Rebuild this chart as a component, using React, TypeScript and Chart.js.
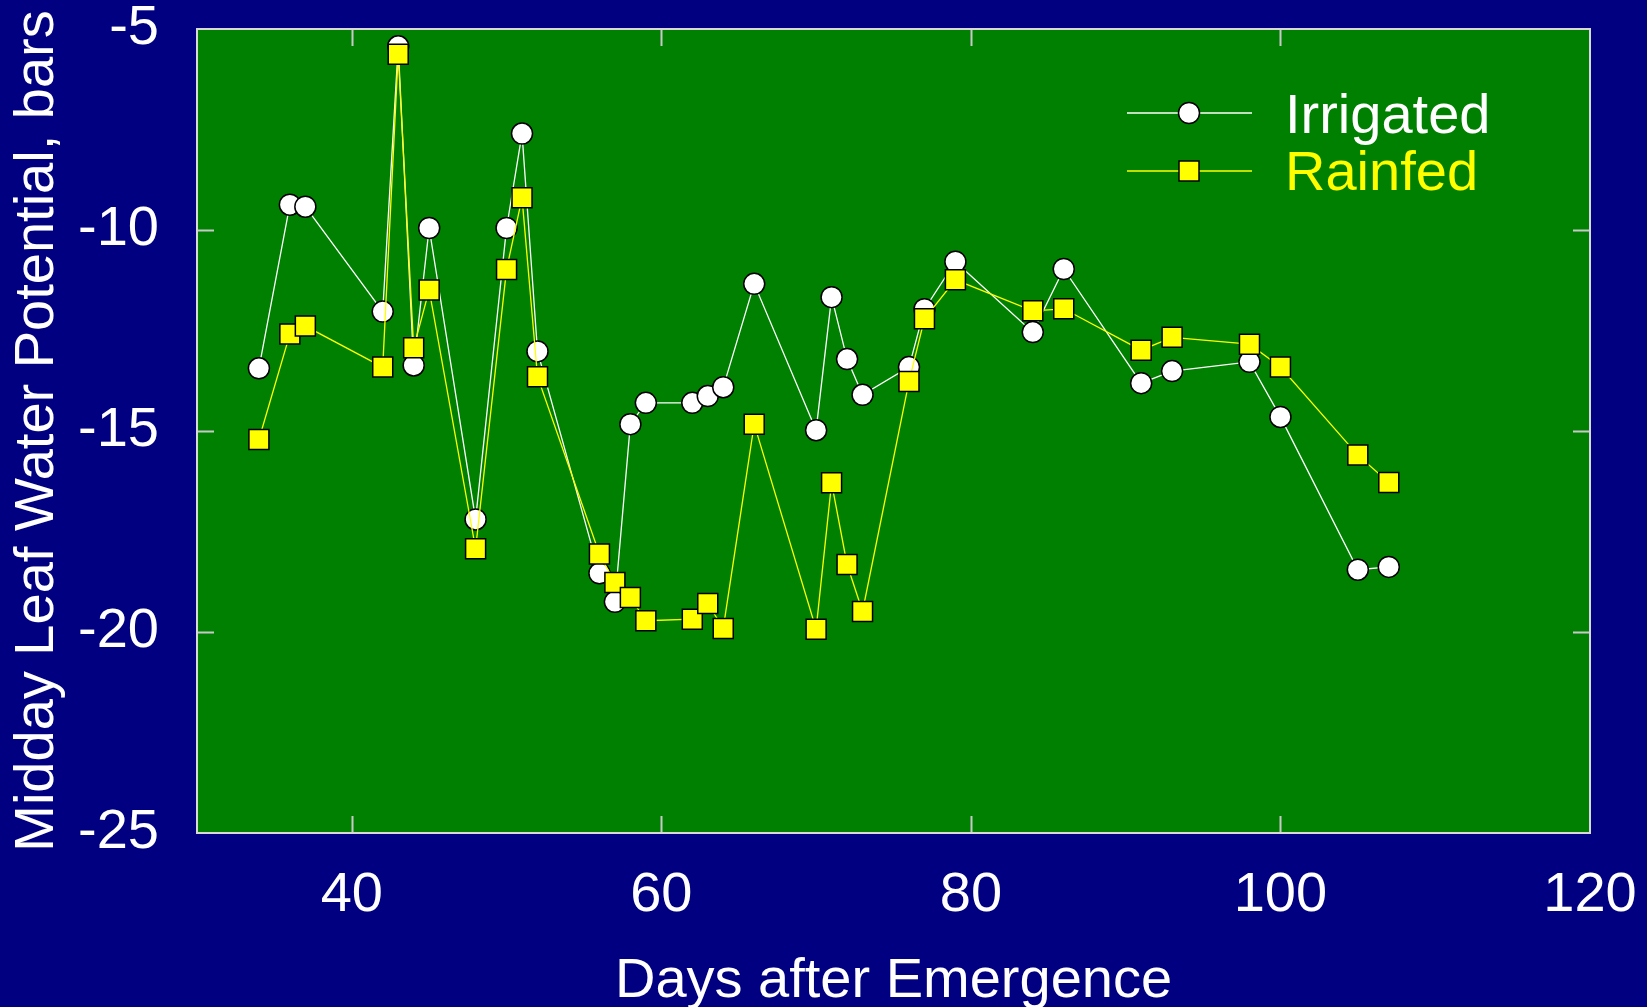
import React, { useEffect, useRef } from 'react';
import { Chart, registerables } from 'chart.js';

Chart.register(...registerables);

const days = [34, 36, 37, 42, 43, 44, 45, 48, 50, 51, 52, 56, 57, 58, 59, 62, 63, 64, 66, 70, 71, 72, 73, 76, 77, 79, 84, 86, 91, 93, 98, 100, 105, 107];
const irrigated = [-13.44, -9.37, -9.42, -12.03, -5.43, -13.37, -9.95, -17.2, -9.95, -7.6, -13.02, -18.54, -19.25, -14.83, -14.3, -14.3, -14.13, -13.91, -11.34, -14.98, -11.67, -13.21, -14.1, -13.41, -11.97, -10.79, -12.54, -10.97, -13.81, -13.51, -13.28, -14.65, -18.45, -18.38];
const rainfed = [-15.21, -12.59, -12.39, -13.41, -5.63, -12.93, -11.49, -17.93, -10.98, -9.2, -13.65, -18.06, -18.77, -19.14, -19.72, -19.68, -19.29, -19.91, -14.83, -19.93, -16.29, -18.32, -19.49, -13.77, -12.21, -11.24, -12.01, -11.96, -12.99, -12.67, -12.84, -13.41, -15.6, -16.28];

const seriesNames = ['Irrigated', 'Rainfed'];
const xTickValues = [40, 60, 80, 100, 120];
const yTickValues = [-25, -20, -15, -10, -5];
const xInnerTicks = [40, 60, 80, 100];
const yInnerTicks = [-20, -15, -10];
const xTitle = 'Days after Emergence';
const yTitle = 'Midday Leaf Water Potential, bars';

const W = 1647;
const H = 1007;
const FONT = '"Liberation Sans", Arial, sans-serif';

const framePlugin = {
  id: 'frame',
  beforeDraw(chart: any) {
    const { ctx, chartArea: a } = chart;
    ctx.save();
    ctx.fillStyle = '#008000';
    ctx.fillRect(a.left, a.top, a.right - a.left, a.bottom - a.top);
    ctx.restore();
  },
  afterDraw(chart: any) {
    const { ctx, chartArea: a, scales } = chart;
    const xs = scales.x;
    const ys = scales.y;
    const tl = 17;
    ctx.save();
    ctx.strokeStyle = '#c8c8c8';
    ctx.lineWidth = 2;
    ctx.beginPath();
    for (const v of xInnerTicks) {
      const px = Math.round(xs.getPixelForValue(v)) + 0.5;
      ctx.moveTo(px, a.top);
      ctx.lineTo(px, a.top + tl);
      ctx.moveTo(px, a.bottom);
      ctx.lineTo(px, a.bottom - tl);
    }
    for (const v of yInnerTicks) {
      const py = Math.round(ys.getPixelForValue(v)) + 0.5;
      ctx.moveTo(a.left, py);
      ctx.lineTo(a.left + tl, py);
      ctx.moveTo(a.right, py);
      ctx.lineTo(a.right - tl, py);
    }
    ctx.stroke();
    ctx.strokeStyle = '#d8d8d8';
    ctx.lineWidth = 2;
    ctx.strokeRect(a.left, a.top, a.right - a.left, a.bottom - a.top);

    // legend
    const rows = [
      { y: 113, color: '#ffffff', shape: 'circle', text: seriesNames[0], textY: 133 },
      { y: 171, color: '#ffff00', shape: 'rect', text: seriesNames[1], textY: 190 },
    ];
    for (const r of rows) {
      ctx.strokeStyle = r.color;
      ctx.lineWidth = 1.3;
      ctx.beginPath();
      ctx.moveTo(1127, r.y);
      ctx.lineTo(1252, r.y);
      ctx.stroke();
      ctx.fillStyle = r.color;
      ctx.strokeStyle = '#000000';
      ctx.lineWidth = 1.5;
      ctx.beginPath();
      if (r.shape === 'circle') {
        ctx.arc(1189, r.y, 10.5, 0, Math.PI * 2);
      } else {
        ctx.rect(1179, r.y - 10, 20, 20);
      }
      ctx.fill();
      ctx.stroke();
      ctx.font = `56px ${FONT}`;
      ctx.textAlign = 'left';
      ctx.textBaseline = 'alphabetic';
      ctx.fillStyle = r.color;
      ctx.fillText(r.text, 1285, r.textY);
    }
    ctx.restore();
  },
};

export default function App() {
  const ref = useRef<HTMLCanvasElement | null>(null);
  useEffect(() => {
    if (!ref.current) return;
    const chart = new Chart(ref.current, {
      type: 'line',
      data: {
        datasets: [
          {
            label: seriesNames[0],
            data: days.map((d, i) => ({ x: d, y: irrigated[i] })),
            borderColor: '#ffffff',
            borderWidth: 1.3,
            pointStyle: 'circle',
            pointRadius: 10.5,
            pointBackgroundColor: '#ffffff',
            pointBorderColor: '#000000',
            pointBorderWidth: 1.5,
            tension: 0,
            order: 1,
          },
          {
            label: seriesNames[1],
            data: days.map((d, i) => ({ x: d, y: rainfed[i] })),
            borderColor: '#ffff00',
            borderWidth: 1.3,
            pointStyle: 'rect',
            pointRadius: 14.14,
            pointBackgroundColor: '#ffff00',
            pointBorderColor: '#000000',
            pointBorderWidth: 1.5,
            tension: 0,
            order: 0,
          },
        ],
      },
      options: {
        responsive: false,
        animation: false,
        devicePixelRatio: 1,
        layout: { padding: { top: 29, right: 57, left: 0, bottom: 0 } },
        plugins: { legend: { display: false }, tooltip: { enabled: false } },
        scales: {
          x: {
            type: 'linear',
            min: 30,
            max: 120,
            grid: { display: false },
            border: { display: false },
            afterBuildTicks: (s: any) => {
              s.ticks = xTickValues.map((v) => ({ value: v }));
            },
            afterFit: (s: any) => {
              s.height = H - 833;
              s.paddingLeft = 0;
              s.paddingRight = 0;
            },
            ticks: {
              color: '#ffffff',
              padding: 21,
              maxRotation: 0,
              autoSkip: false,
              font: { family: FONT, size: 56, lineHeight: 1.2 },
              callback: (v: any) => String(v),
            },
            title: {
              display: true,
              text: xTitle,
              color: '#ffffff',
              padding: { top: 0, bottom: 0 },
              font: { family: FONT, size: 56, lineHeight: 0.92 },
            },
          },
          y: {
            type: 'linear',
            min: -25,
            max: -5,
            grid: { display: false },
            border: { display: false },
            afterBuildTicks: (s: any) => {
              s.ticks = yTickValues.map((v) => ({ value: v }));
            },
            afterFit: (s: any) => {
              s.width = 197;
              s.paddingTop = 0;
              s.paddingBottom = 0;
            },
            ticks: {
              color: '#ffffff',
              padding: 30,
              autoSkip: false,
              font: { family: FONT, size: 56, lineHeight: 1.2 },
              callback: (v: any) => String(v),
            },
            title: {
              display: true,
              text: yTitle,
              color: '#ffffff',
              padding: { top: 7, bottom: 0 },
              font: { family: FONT, size: 56, lineHeight: 1.1 },
            },
          },
        },
      },
      plugins: [framePlugin],
    } as any);
    return () => chart.destroy();
  }, []);
  return (
    <div style={{ position: 'fixed', left: 0, top: 0, width: W, height: H, background: '#000080' }}>
      <canvas ref={ref} width={W} height={H} style={{ display: 'block', width: W, height: H }} />
    </div>
  );
}
